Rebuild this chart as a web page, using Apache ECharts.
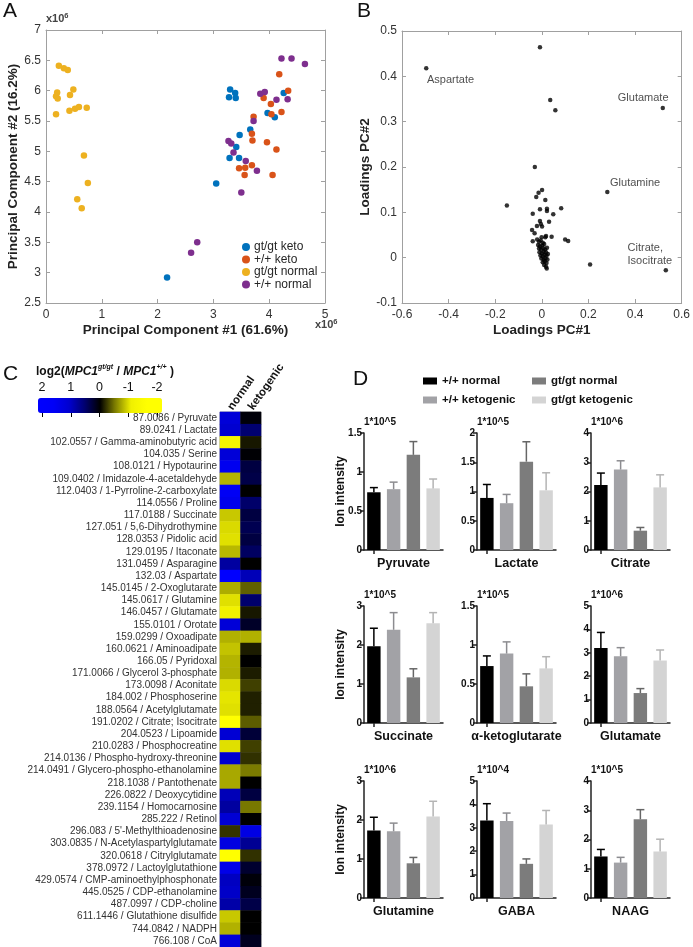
<!DOCTYPE html>
<html><head><meta charset="utf-8">
<script src="https://cdn.jsdelivr.net/npm/echarts@6/dist/echarts.min.js"></script>
<style>html,body{margin:0;padding:0;background:#fff}#c{width:693px;height:947px}</style>
</head><body><div id="c"></div>
<script>
// ---------- Panel A data (PC scores, units of 1e6) ----------
const aGtGtKeto = [[3.30,6.02],[3.28,5.89],[3.39,5.96],[3.40,5.88],[3.97,5.63],[4.10,5.56],[4.26,5.96],[3.66,5.36],[3.47,5.27],[3.41,5.07],[3.29,4.89],[3.46,4.89],[3.05,4.47],[2.17,2.92]];
const aWtKeto = [[4.18,6.27],[4.34,6.00],[3.90,5.88],[4.03,5.78],[4.04,5.61],[4.22,5.65],[3.72,5.57],[3.69,5.29],[3.70,5.18],[3.96,5.15],[4.13,5.03],[3.69,4.77],[3.57,4.73],[3.46,4.72],[3.56,4.61],[4.06,4.61]];
const aGtGtNormal = [[0.23,6.41],[0.32,6.37],[0.39,6.34],[0.18,5.91],[0.20,5.97],[0.21,5.87],[0.18,5.61],[0.43,5.93],[0.49,6.02],[0.42,5.67],[0.52,5.70],[0.59,5.73],[0.73,5.72],[0.68,4.93],[0.75,4.48],[0.56,4.21],[0.64,4.06]];
const aWtNormal = [[4.22,6.53],[4.40,6.53],[4.64,6.44],[3.84,5.95],[3.92,5.98],[4.13,5.85],[4.33,5.86],[3.72,5.50],[3.27,5.17],[3.32,5.13],[3.36,4.98],[3.58,4.84],[3.78,4.68],[3.50,4.32],[2.71,3.50],[2.60,3.33]];
const aSeriesNames = ['gt/gt keto','+/+ keto','gt/gt normal','+/+ normal'];
const aColors = ['#0072BD','#D95319','#EDB120','#7E2F8E'];

// ---------- Panel B data (loadings) ----------
const bLoadings = [
  [-0.008,0.464],[0.036,0.348],[0.058,0.325],[-0.030,0.200],[-0.150,0.115],[0.207,-0.015],
  [0.083,0.109],[0.100,0.040],[0.113,0.037],
  [0.001,0.149],[-0.014,0.143],[-0.024,0.134],[0.015,0.127],[-0.008,0.107],[0.022,0.108],[0.022,0.103],
  [-0.039,0.097],[0.049,0.096],[0.031,0.079],[-0.008,0.081],[-0.004,0.074],[-0.021,0.070],[0.001,0.069],
  [-0.042,0.061],[-0.031,0.054],[0.018,0.048],[0.042,0.046],[-0.039,0.036],
  [-0.020,0.040],[-0.012,0.035],[-0.005,0.038],[0.004,0.033],[-0.016,0.028],[-0.008,0.025],[0.002,0.027],
  [0.010,0.030],[-0.012,0.020],[-0.004,0.018],[0.006,0.021],[0.014,0.018],[-0.010,0.012],[0.000,0.010],
  [0.008,0.013],[0.018,0.012],[-0.006,0.005],[0.004,0.003],[0.012,0.006],[0.020,0.004],[-0.002,-0.002],
  [0.008,-0.004],[0.016,-0.002],[0.024,-0.004],[0.004,-0.010],[0.012,-0.008],[0.020,-0.012],[0.010,-0.016],
  [0.018,-0.020],[0.021,-0.024],[0.022,0.022],[0.026,0.008],[0.015,0.045],[-0.001,0.045]
];
const bNamed = [
  {name:'Aspartate', value:[-0.496,0.418]},
  {name:'Glutamate', value:[0.519,0.330]},
  {name:'Glutamine', value:[0.281,0.145]},
  {name:'Citrate,\nIsocitrate', value:[0.532,-0.028]}
];

// ---------- Panel C data (heatmap, log2 ratio) ----------
const cMetabolites = ['87.0086 / Pyruvate','89.0241 / Lactate','102.0557 / Gamma-aminobutyric acid','104.035 / Serine','108.0121 / Hypotaurine','109.0402 / Imidazole-4-acetaldehyde','112.0403 / 1-Pyrroline-2-carboxylate','114.0556 / Proline','117.0188 / Succinate','127.051 / 5,6-Dihydrothymine','128.0353 / Pidolic acid','129.0195 / Itaconate','131.0459 / Asparagine','132.03 / Aspartate','145.0145 / 2-Oxoglutarate','145.0617 / Glutamine','146.0457 / Glutamate','155.0101 / Orotate','159.0299 / Oxoadipate','160.0621 / Aminoadipate','166.05 / Pyridoxal','171.0066 / Glycerol 3-phosphate','173.0098 / Aconitate','184.002 / Phosphoserine','188.0564 / Acetylglutamate','191.0202 / Citrate; Isocitrate','204.0523 / Lipoamide','210.0283 / Phosphocreatine','214.0136 / Phospho-hydroxy-threonine','214.0491 / Glycero-phospho-ethanolamine','218.1038 / Pantothenate','226.0822 / Deoxycytidine','239.1154 / Homocarnosine','285.222 / Retinol',"296.083 / 5'-Methylthioadenosine",'303.0835 / N-Acetylaspartylglutamate','320.0618 / Citrylglutamate','378.0972 / Lactoylglutathione','429.0574 / CMP-aminoethylphosphonate','445.0525 / CDP-ethanolamine','487.0997 / CDP-choline','611.1446 / Glutathione disulfide','744.0842 / NADPH','766.108 / CoA'];
const cConditions = ['normal','ketogenic'];
const cNormal = [1.1,1.0,-1.2,1.1,1.4,-0.73,1.46,1.35,-0.82,-0.9,-0.93,-0.75,0.75,2.0,-0.7,-0.93,-1.05,1.1,-0.72,-0.8,-0.73,-0.72,-0.9,-0.95,-0.93,-1.6,1.05,-0.93,1.0,-0.68,-0.68,0.875,0.75,1.05,-0.2,1.2,-1.8,1.3,0.92,0.96,0.79,-0.82,-0.72,1.1];
const cKetogenic = [0.04,0.5,-0.09,0.02,0.29,0.32,0,0.47,0.29,0.36,0.29,0.43,0,0.875,-0.375,0.48,-0.09,0.18,-0.72,-0.11,0,-0.11,-0.25,-0.125,-0.125,-0.36,0.25,-0.25,-0.19,-0.48,0,0.29,-0.47,0,1.25,0.68,-0.19,0.21,0.04,0.14,0.32,0,0,0.14];
const cScaleTicks = [2,1,0,-1,-2];

// ---------- Panel D data (ion intensity) ----------
const dMetabolites = ['Pyruvate','Lactate','Citrate','Succinate','α-ketoglutarate','Glutamate','Glutamine','GABA','NAAG'];
const dExponents = ['1*10^5','1*10^5','1*10^6','1*10^5','1*10^5','1*10^6','1*10^6','1*10^4','1*10^5'];
const dYMax = [1.5,2,4,3,1.5,5,3,5,4];
const dYStep = [0.5,0.5,1,1,0.5,1,1,1,1];
const dGroups = ['+/+ normal','+/+ ketogenic','gt/gt normal','gt/gt ketogenic'];
const dMeanWtNormal = [0.74,0.89,2.22,1.97,0.73,3.20,1.73,3.31,1.42];
const dMeanWtKeto   = [0.78,0.80,2.75,2.39,0.89,2.85,1.71,3.29,1.21];
const dMeanGtNormal = [1.22,1.51,0.66,1.17,0.47,1.28,0.89,1.46,2.69];
const dMeanGtKeto   = [0.79,1.02,2.14,2.56,0.70,2.67,2.09,3.14,1.59];
const dSemWtNormal = [0.06,0.23,0.41,0.46,0.13,0.67,0.34,0.72,0.24];
const dSemWtKeto   = [0.09,0.15,0.30,0.44,0.15,0.37,0.21,0.34,0.18];
const dSemGtNormal = [0.17,0.34,0.11,0.22,0.16,0.19,0.15,0.21,0.33];
const dSemGtKeto   = [0.12,0.30,0.43,0.27,0.15,0.45,0.39,0.60,0.42];
const dBarColors = ['#000000','#a2a2a6','#7c7c7c','#d4d4d4'];
const dErrColors = ['#000000','#8c8c90','#666666','#b4b4b4'];

// ---------- build ----------
const FONT = "'Liberation Sans', Arial, Helvetica, sans-serif";
const chart = echarts.init(document.getElementById('c'), null, {renderer:'canvas'});

const grids = [], xAxes = [], yAxes = [], series = [], titles = [], graphics = [];

function boxAxes(gi, xmin, xmax, xint, ymin, ymax, yint, xname, yname, yNameGap) {
  const lc = '#a0a0a0';
  const common = {gridIndex: gi, type:'value', splitLine:{show:false},
    axisLine:{show:true, onZero:false, lineStyle:{color:lc, width:1}},
    axisTick:{show:true, inside:true, length:4, lineStyle:{color:lc}}};
  xAxes.push(Object.assign({}, common, {min:xmin, max:xmax, interval:xint, position:'bottom',
    axisLabel:{color:'#333', fontSize:12, fontFamily:FONT, margin:6},
    name:xname, nameLocation:'middle', nameGap:20,
    nameTextStyle:{fontFamily:FONT, fontWeight:'bold', fontSize:13.5, color:'#222'}}));
  xAxes.push(Object.assign({}, common, {min:xmin, max:xmax, interval:xint, position:'top', axisLabel:{show:false}}));
  yAxes.push(Object.assign({}, common, {min:ymin, max:ymax, interval:yint, position:'left',
    axisLabel:{color:'#333', fontSize:12, fontFamily:FONT, margin:5},
    name:yname, nameLocation:'middle', nameGap:yNameGap,
    nameTextStyle:{fontFamily:FONT, fontWeight:'bold', fontSize:13.5, color:'#222'}}));
  yAxes.push(Object.assign({}, common, {min:ymin, max:ymax, interval:yint, position:'right', axisLabel:{show:false}}));
}

// Panel A
grids.push({left:46, top:30, width:279, height:273});
boxAxes(0, 0, 5, 1, 2.5, 7, 0.5, 'Principal Component #1 (61.6%)', 'Principal Component #2 (16.2%)', 25);
[aGtGtKeto, aWtKeto, aGtGtNormal, aWtNormal].forEach((d, i) => {
  series.push({type:'scatter', name:aSeriesNames[i], xAxisIndex:0, yAxisIndex:0, data:d,
    symbolSize:6.5, itemStyle:{color:aColors[i], opacity:1}});
});

// Panel B
grids.push({left:402, top:31, width:281, height:272});
boxAxes(1, -0.6, 0.6, 0.2, -0.1, 0.5, 0.1, 'Loadings PC#1', 'Loadings PC#2', 27);
const bLabelPos = {
  'Aspartate': {position:[3,14], align:'left'},
  'Glutamate': {position:[8,-8], align:'right'},
  'Glutamine': {position:[5,-7], align:'left'},
  'Citrate,\nIsocitrate': {position:[-36,-14], align:'left'}
};
series.push({type:'scatter', name:'loadings', xAxisIndex:2, yAxisIndex:2, data:bLoadings,
  symbolSize:4.5, itemStyle:{color:'#000'}});
series.push({type:'scatter', name:'loadings-named', xAxisIndex:2, yAxisIndex:2,
  data:bNamed.map(p => ({name:p.name, value:p.value,
    label:Object.assign({show:true, formatter:'{b}', verticalAlign:'middle', fontSize:11, lineHeight:13, color:'#222', fontFamily:FONT}, bLabelPos[p.name])})),
  symbolSize:4.5, itemStyle:{color:'#000'}});

// Panel C heatmap
grids.push({left:220, top:412, width:41, height:535, show:true, borderColor:'#999', borderWidth:1, backgroundColor:'transparent'});
xAxes.push({gridIndex:2, type:'category', data:cConditions, position:'top',
  axisLine:{show:false}, axisTick:{show:false}, splitLine:{show:false},
  axisLabel:{interval:0, rotate:-55, fontSize:11.5, fontWeight:'bold', color:'#111', fontFamily:FONT, margin:3}});
yAxes.push({gridIndex:2, type:'category', data:cMetabolites, inverse:true,
  axisLine:{show:false}, axisTick:{show:false}, splitLine:{show:false},
  axisLabel:{interval:0, fontSize:10, color:'#333', fontFamily:FONT, margin:3}});
const heatData = [];
cMetabolites.forEach((m, i) => { heatData.push([0, i, cNormal[i]]); heatData.push([1, i, cKetogenic[i]]); });
const heatIndex = series.length;
series.push({type:'heatmap', name:'log2 ratio', xAxisIndex:4, yAxisIndex:4, data:heatData, itemStyle:{borderWidth:0}});

// colour-bar tick axis
grids.push({left:42, top:398, width:115, height:15});
xAxes.push({gridIndex:3, type:'value', min:-2, max:2, interval:1, inverse:true, position:'top',
  axisLine:{show:false}, splitLine:{show:false},
  axisTick:{show:true, inside:true, length:4, lineStyle:{color:'#000'}},
  axisLabel:{fontSize:12.5, color:'#111', fontFamily:FONT, margin:4, formatter: v => String(v)}});
yAxes.push({gridIndex:3, type:'value', show:false, min:0, max:1});

// Panel D bar charts
const colLeft = [364, 477, 591];
const rowTop = [433, 606, 781];
const barH = 117, barW = 79;
const dMeans = [dMeanWtNormal, dMeanWtKeto, dMeanGtNormal, dMeanGtKeto];
const dSems = [dSemWtNormal, dSemWtKeto, dSemGtNormal, dSemGtKeto];
dMetabolites.forEach((m, k) => {
  const gi = grids.length;
  const r = Math.floor(k / 3), c = k % 3;
  grids.push({left:colLeft[c], top:rowTop[r], width:barW, height:barH});
  const xi = xAxes.length, yi = yAxes.length;
  xAxes.push({gridIndex:gi, type:'category', data:dGroups,
    axisLine:{show:true, lineStyle:{color:'#222', width:1.5}},
    axisTick:{show:true, alignWithLabel:true, length:4, lineStyle:{color:'#222', width:1.5}},
    axisLabel:{show:false}, splitLine:{show:false},
    name:m, nameLocation:'middle', nameGap:7,
    nameTextStyle:{fontFamily:FONT, fontWeight:'bold', fontSize:12.5, color:'#111', verticalAlign:'top'}});
  yAxes.push({gridIndex:gi, type:'value', min:0, max:dYMax[k], interval:dYStep[k],
    axisLine:{show:true, lineStyle:{color:'#222', width:1.5}},
    axisTick:{show:true, length:4, lineStyle:{color:'#222', width:1.5}},
    axisLabel:{fontSize:10, fontWeight:'bold', color:'#111', fontFamily:FONT, margin:2},
    splitLine:{show:false},
    name:dExponents[k], nameLocation:'end', nameGap:6,
    nameTextStyle:{fontFamily:FONT, fontWeight:'bold', fontSize:10, color:'#111', align:'left'}});
  dGroups.forEach((g, j) => {
    const data = dGroups.map((_, q) => q === j ? dMeans[j][k] : '-');
    series.push({type:'bar', name:g, xAxisIndex:xi, yAxisIndex:yi, stack:'s'+k, data:data,
      barWidth:'68%', itemStyle:{color:dBarColors[j]}});
  });
  series.push({type:'custom', name:'err'+k, xAxisIndex:xi, yAxisIndex:yi, z:5,
    data: dGroups.map((_, j) => [j, dMeans[j][k], dSems[j][k]]),
    encode:{x:0, y:1},
    renderItem: function(params, api) {
      const j = api.value(0), mv = api.value(1), e = api.value(2);
      const p0 = api.coord([j, mv]), p1 = api.coord([j, mv + e]);
      const col = dErrColors[j];
      return {type:'group', children:[
        {type:'line', shape:{x1:p0[0], y1:p0[1], x2:p1[0], y2:p1[1]}, style:{stroke:col, lineWidth:1.5}},
        {type:'line', shape:{x1:p1[0]-4, y1:p1[1], x2:p1[0]+4, y2:p1[1]}, style:{stroke:col, lineWidth:1.5}}
      ]};
    }});
  if (c === 0) {
    graphics.push({type:'text', x:341, y:rowTop[r] + barH/2, rotation:Math.PI/2,
      style:{text:'Ion intensity', font:"bold 12px " + FONT, fill:'#111', textAlign:'center', textVerticalAlign:'middle'}});
  }
});

// Titles / panel letters
const letterStyle = {fontSize:21, fontWeight:'normal', color:'#111', fontFamily:FONT};
titles.push({text:'A', left:3, top:1, textStyle:letterStyle, padding:0});
titles.push({text:'B', left:357, top:1, textStyle:letterStyle, padding:0});
titles.push({text:'C', left:3, top:364, textStyle:letterStyle, padding:0});
titles.push({text:'D', left:353, top:369, textStyle:letterStyle, padding:0});
const expRich = {a:{fontSize:11, color:'#444', fontFamily:FONT, lineHeight:14}, s:{fontSize:7.5, color:'#444', fontFamily:FONT, verticalAlign:'top', lineHeight:14}};
titles.push({text:'{a|x10}{s|6}', left:46, top:12, padding:0, textStyle:{rich:expRich}});
titles.push({text:'{a|x10}{s|6}', left:315, top:318, padding:0, textStyle:{rich:expRich}});
titles.push({text:'{b|log2(}{i|MPC1}{s|gt/gt}{b| / }{i|MPC1}{s|+/+}{b| )}', left:36, top:364, padding:0,
  textStyle:{rich:{
    b:{fontSize:12, fontWeight:'bold', color:'#111', fontFamily:FONT, lineHeight:16},
    i:{fontSize:12, fontStyle:'italic', color:'#111', fontFamily:FONT, lineHeight:16},
    s:{fontSize:7, fontStyle:'italic', color:'#111', fontFamily:FONT, verticalAlign:'top', lineHeight:16}
  }}});

const option = {
  animation:false,
  backgroundColor:'#fff',
  textStyle:{fontFamily:FONT},
  title:titles,
  grid:grids,
  xAxis:xAxes,
  yAxis:yAxes,
  legend:[
    {orient:'vertical', left:242, top:241, padding:0, itemGap:0.5, itemWidth:8, itemHeight:8, icon:'circle', selectedMode:false,
      textStyle:{fontSize:12, color:'#262626', fontFamily:FONT, padding:[0,0,0,-1]},
      data:aSeriesNames.map((n, i) => ({name:n, itemStyle:{color:aColors[i]}}))},
    {orient:'vertical', left:423, top:375, padding:0, itemGap:7, itemWidth:14, itemHeight:7, icon:'rect', selectedMode:false,
      textStyle:{fontSize:11.5, fontWeight:'bold', color:'#111', fontFamily:FONT},
      data:[0,1].map(j => ({name:dGroups[j], itemStyle:{color:dBarColors[j]}}))},
    {orient:'vertical', left:532, top:375, padding:0, itemGap:7, itemWidth:14, itemHeight:7, icon:'rect', selectedMode:false,
      textStyle:{fontSize:11.5, fontWeight:'bold', color:'#111', fontFamily:FONT},
      data:[2,3].map(j => ({name:dGroups[j], itemStyle:{color:dBarColors[j]}}))}
  ],
  visualMap:{type:'continuous', min:-2, max:2, seriesIndex:heatIndex, dimension:2,
    orient:'horizontal', inverse:true, left:38, top:398, itemWidth:15, itemHeight:124,
    calculable:false, hoverLink:false, padding:0, text:null, show:true,
    inRange:{color:['#ffff00','#ffff00','#f0f000','#808000','#000000','#000070','#0000d0','#0000f8','#0000ff']}},
  graphic:graphics,
  series:series
};
chart.setOption(option);
</script></body></html>
